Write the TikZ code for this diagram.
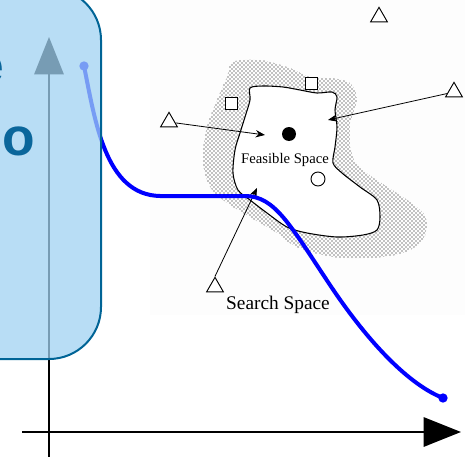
\documentclass[tikz,border=0pt]{standalone}
\usepackage{fontspec}
\setmainfont{Liberation Serif}
\newfontfamily\boxfont{Liberation Sans}
\usetikzlibrary{arrows.meta,patterns,shapes.geometric}
\definecolor{boxfill}{RGB}{160,209,241}
\definecolor{boxline}{RGB}{0,100,150}
\definecolor{boxtext}{RGB}{10,102,155}
\definecolor{imgbg}{RGB}{253,253,253}
\begin{document}
\begin{tikzpicture}[x=0.75pt,y=-0.75pt,
  tri/.style={regular polygon,regular polygon sides=3,draw=black,line width=0.7pt,fill=white,minimum size=14.5pt,inner sep=0pt},
  sq/.style={rectangle,draw=black,line width=0.7pt,fill=white,minimum size=9pt,inner sep=0pt},
  conn/.style={draw=black,line width=0.6pt,-{Stealth[length=7pt,width=5.5pt]}},
  axis/.style={draw=black,line width=1.5pt,-{Triangle[length=28pt,width=22pt]}},
  curve/.style={draw=blue,line width=3pt},
  dot/.style={circle,fill=blue,minimum size=7pt,inner sep=0pt},
  boxtxt/.style={font=\boxfont\bfseries\fontsize{40}{48}\selectfont,text=boxtext,inner sep=0pt}]
\useasboundingbox (0,0) rectangle (465,457);
\clip (0,0) rectangle (465,457);

% picture of search space
\fill[imgbg] (150,0) rectangle (465,315);
\fill[pattern=crosshatch dots,pattern color=black] plot[smooth cycle,tension=0.6] coordinates {
 (233,62) (260,60) (290,68) (310,77) (330,78) (350,83) (357,100) (350,127) (353,157)
 (367,173) (397,193) (417,207) (427,220) (423,240) (403,253) (370,258) (333,257)
 (297,247) (277,233) (250,217) (223,200) (208,183) (203,157) (207,127) (217,100) (227,77)};
\filldraw[fill=white,draw=black,line width=0.8pt] plot[smooth cycle,tension=0.5] coordinates {
 (250,88) (263,86) (283,87) (300,90) (317,93) (332,92) (337,97) (335,110) (337,127)
 (335,147) (333,163) (342,173) (360,187) (377,200) (380,217) (377,230) (363,235)
 (337,237) (307,233) (287,227) (267,213) (250,200) (238,190) (233,173) (235,150)
 (240,133) (245,117) (250,100)};

\node[font=\fontsize{11}{13}\selectfont,inner sep=0pt] (feas) at (285,160) {Feasible Space};
\node[font=\fontsize{14.5}{17}\selectfont,inner sep=0pt] (search) at (278,305) {Search Space};
\node[circle,fill=black,minimum size=10.5pt,inner sep=0pt] (best) at (289,134) {};
\node[circle,draw=black,line width=0.7pt,fill=white,minimum size=10.5pt,inner sep=0pt] (opt) at (318,179) {};
\node[sq] (sq1) at (231,103) {};
\node[sq] (sq2) at (311,83) {};
\node[tri] (tr1) at (379,17) {};
\node[tri] (tr2) at (454,92) {};
\node[tri] (tr3) at (169,122) {};
\node[tri] (tr4) at (215,287) {};
\coordinate (a2) at (328,120);
\coordinate (a3) at (265,135);
\coordinate (a4) at (257,188);
\draw[conn] (tr2) -- (a2);
\draw[conn] (tr3) -- (a3);
\draw[conn] (tr4.north) -- (a4);

% axes
\coordinate (yb) at (49,460);
\coordinate (yt) at (49,37);
\coordinate (xl) at (22,432);
\coordinate (xr) at (461,432);
\draw[axis] (yb) -- (yt);
\draw[axis] (xl) -- (xr);

% blue curve
\node[dot] (s) at (84,66) {};
\node[dot] (e) at (443,398) {};
\draw[curve] (s.center) .. controls (95,120) and (105,195) .. (160,196) -- (245,196)
  .. controls (275,196) and (290,225) .. (330,285)
  .. controls (370,345) and (410,385) .. (e.center);

% callout box
\draw[fill=boxfill,fill opacity=0.75,draw=boxline,line width=1.5pt,rounded corners=39pt]
  (-60,-12) rectangle (101,359);
\node[boxtxt,anchor=base east] (l1) at (4,83) {e};
\node[boxtxt,anchor=base east] (l2) at (35,155) {zo};
\end{tikzpicture}
\end{document}
